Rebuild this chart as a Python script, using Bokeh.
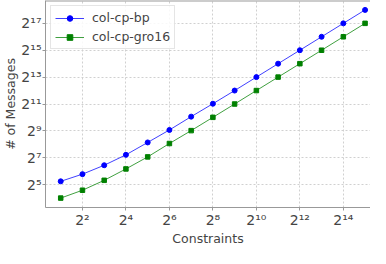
from bokeh.plotting import figure
from bokeh.models import (ColumnDataSource, FixedTicker, CustomJSTickFormatter,
                          Range1d, Legend, LegendItem, Span)
from bokeh.embed import file_html
from bokeh.resources import INLINE

constraints = [2, 4, 8, 16, 32, 64, 128, 256, 512, 1024, 2048, 4096, 8192, 16384, 32768]
bp_messages = [38, 55, 87, 149, 282, 537, 1067, 2077, 4096, 8192, 16384, 32768, 65536, 131072, 262144]
gro16_messages = [16, 24, 40, 72, 134, 267, 519, 1030, 2048, 4096, 8192, 16384, 32768, 65536, 131072]
series_names = ["col-cp-bp", "col-cp-gro16"]
x_ticks = [4, 16, 64, 256, 1024, 4096, 16384]
y_ticks = [32, 128, 512, 2048, 8192, 32768, 131072]

src = ColumnDataSource(dict(x=constraints, bp=bp_messages, gro=gro16_messages))

y_top = 2 ** 18.7
p = figure(width=370, height=248, x_axis_type="log", y_axis_type="log",
           x_range=Range1d(2 ** 0.3, 2 ** 15.25), y_range=Range1d(2 ** 3.3, y_top),
           output_backend="svg", toolbar_location=None,
           min_border_left=0, min_border_right=0, min_border_top=0, min_border_bottom=0)
p.outline_line_color = None

fmt = CustomJSTickFormatter(code="""
const sup = {'0':'\u2070','1':'\u00b9','2':'\u00b2','3':'\u00b3','4':'\u2074','5':'\u2075','6':'\u2076','7':'\u2077','8':'\u2078','9':'\u2079'};
const e = Math.round(Math.log2(tick)).toString();
let s = '';
for (const c of e) s += sup[c];
return '2' + s;
""")

for ax, ticks, lab in ((p.xaxis[0], x_ticks, "Constraints"), (p.yaxis[0], y_ticks, "# of Messages")):
    ax.ticker = FixedTicker(ticks=ticks, minor_ticks=[])
    ax.formatter = fmt
    ax.axis_label = lab
    ax.axis_label_text_font = "DejaVu Sans"
    ax.axis_label_text_font_style = "normal"
    ax.axis_label_text_font_size = "12.5px"
    ax.axis_label_standoff = 0
    ax.axis_label_text_line_height = 1.0
    ax.major_label_text_font = "DejaVu Sans"
    ax.major_label_text_font_size = "14px"
    ax.major_label_text_line_height = 1.0
    ax.major_label_standoff = 1
    ax.axis_line_color = "#999999"
    ax.major_tick_line_color = "#999999"
    ax.major_tick_out = 3
    ax.major_tick_in = 0
    ax.minor_tick_line_color = None

for g in (p.xgrid[0], p.ygrid[0]):
    g.grid_line_color = "#d0d0d0"
    g.grid_line_dash = "2 2"
    g.grid_line_width = 1

p.add_layout(Span(location=y_top, dimension="width", line_color="#999999", line_width=2))

l1 = p.line("x", "bp", source=src, color="#0000ff", line_width=1, line_alpha=0.75)
s1 = p.scatter("x", "bp", source=src, marker="circle", size=5, color="#0000ff")
l2 = p.line("x", "gro", source=src, color="#008000", line_width=1, line_alpha=0.75)
s2 = p.scatter("x", "gro", source=src, marker="square", size=4.5, color="#008000")

legend = Legend(items=[LegendItem(label=series_names[0], renderers=[l1, s1]),
                       LegendItem(label=series_names[1], renderers=[l2, s2])],
                location="top_left")
legend.label_text_font = "DejaVu Sans"
legend.label_text_font_size = "12.5px"
legend.glyph_width = 29
legend.glyph_height = 14
legend.label_standoff = 8
legend.spacing = 4
legend.padding = 4
legend.margin = 5
legend.border_line_color = "#cccccc"
legend.background_fill_alpha = 0.85
p.add_layout(legend)

open("out.html", "w").write(file_html(p, INLINE))
